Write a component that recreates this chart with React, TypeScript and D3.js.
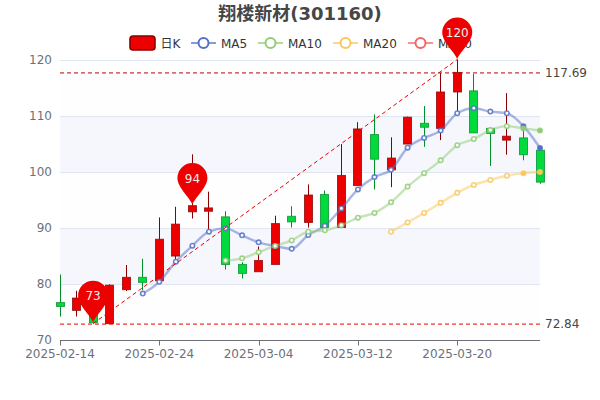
import React from "react";
import * as d3 from "d3";

const dates = ["2025-02-14","2025-02-17","2025-02-18","2025-02-19","2025-02-20","2025-02-21","2025-02-24","2025-02-25","2025-02-26","2025-02-27","2025-02-28","2025-03-03","2025-03-04","2025-03-05","2025-03-06","2025-03-07","2025-03-10","2025-03-11","2025-03-12","2025-03-13","2025-03-14","2025-03-17","2025-03-18","2025-03-19","2025-03-20","2025-03-21","2025-03-24","2025-03-25","2025-03-26","2025-03-27"];
const opens = [76.6,75.2,76.2,72.84,78.9,81.1,80.5,84.9,92.8,92.9,91.9,83.4,82.1,83.4,92,90.9,95.9,90,97.5,106.6,100.3,104.9,108.6,107.7,114.2,114.4,107.7,105.6,106,103.8];
const closes = [75.9,77.4,73,79.7,81.1,80.2,87.9,90.6,93.9,93.5,83.4,81.8,84.1,90.7,91,95.8,90,99.3,107.6,102.2,102.4,109.7,107.9,114.2,117.69,106.9,106.8,106.3,103,98.1];
const lows = [74.1,74.1,72.84,72.84,78.66,78.8,80.5,84,91.6,89.2,82.5,80.9,82.1,83.4,90,90,90,90,97.5,96.8,97.2,104.9,104.4,105.6,110.4,110.4,101,103,102,97.8];
const highs = [81.6,78.7,76.6,79.85,83.3,84.4,91.8,93.7,103.07,96.4,92.9,83.8,86.6,92.1,93.8,97.7,96.6,104.9,108.8,110.2,106.1,109.8,111.7,117.6,120,117.4,107.9,114,108.1,104];
const ma5 = [null,null,null,null,null,78.2,80.3,83.9,86.75,89.25,89.85,88.6,87.35,86.7,86.2,88.66,90.3,93.4,96.8,99,100.3,104.25,106,107.3,110.4,111.3,110.7,110.4,108.1,104.2];
const ma10 = [null,null,null,null,null,null,null,null,null,null,84.1,84.5,85.6,86.7,87.7,89.25,89.5,90.4,91.75,92.6,94.5,97.3,99.7,102,104.7,105.8,107.4,108.1,107.7,107.3];
const ma20 = [null,null,null,null,null,null,null,null,null,null,null,null,null,null,null,null,null,null,null,null,89.25,90.9,92.6,94.4,96.2,97.6,98.5,99.25,99.7,99.9];
const yTicks = [70,80,90,100,110,120];
const xTickIdx = [0,6,12,18,24];
const maxLine = 117.69;
const minLine = 72.84;
const pins = [{ i: 2, v: 73, label: "73" }, { i: 8, v: 94, label: "94" }, { i: 24, v: 120, label: "120" }];
const legendItems = [
  { name: "MA5", color: "#5470c6", x: 191 },
  { name: "MA10", color: "#91cc75", x: 258 },
  { name: "MA20", color: "#fac858", x: 333 },
  { name: "MA30", color: "#ee6666", x: 408 },
];

const font = "'DejaVu Sans','Noto Sans CJK SC',sans-serif";
const RED = "#ec0000", REDB = "#8a0000", GREEN = "#00da3c", GREENB = "#008f28";

const x = d3.scaleLinear().domain([0, dates.length - 1]).range([60, 540]);
const y = d3.scaleLinear().domain([70, 120]).range([339.5, 59.5]);
const gy = (v: number) => y(v) + 1;

function MA({ data, color }: { data: (number | null)[]; color: string }) {
  const pts = data.map((v, i) => ({ v, i })).filter((d) => d.v != null) as { v: number; i: number }[];
  const line = d3.line<{ v: number; i: number }>().x((d) => x(d.i)).y((d) => y(d.v)).curve(d3.curveMonotoneX);
  return (
    <g>
      <path d={line(pts) || ""} fill="none" stroke={color} strokeWidth={2.4} strokeOpacity={0.5} strokeLinejoin="round" />
      {pts.map((d) => (
        <circle key={d.i} cx={x(d.i)} cy={y(d.v)} r={2.2} fill={d.i >= 28 ? color : "#fff"} stroke={color} strokeWidth={1.6} strokeOpacity={0.85} />
      ))}
    </g>
  );
}

function pinPath(cx: number, tip: number) {
  const cy = tip - 27;
  const r = 15;
  return `M${cx} ${tip}C${cx - 1} ${tip - 6} ${cx - r} ${cy + 10} ${cx - r} ${cy}A${r} ${r} 0 1 1 ${cx + r} ${cy}C${cx + r} ${cy + 10} ${cx + 1} ${tip - 6} ${cx} ${tip}Z`;
}

export default function App() {
  const bands = [[120, 110, "#fefefe"], [110, 100, "#f5f7fc"], [100, 90, "#fefefe"], [90, 80, "#f5f7fc"], [80, 70, "#fefefe"]] as const;
  return (
    <svg width={600} height={400} style={{ position: "absolute", left: 0, top: 0 }} fontFamily={font}>
      <text x={300} y={20} textAnchor="middle" fontSize={18} fontWeight="bold" fill="#464646">翔楼新材(301160)</text>

      {bands.map(([a, b, c]) => (
        <rect key={a} x={60} width={480} y={gy(a)} height={gy(b) - gy(a)} fill={c} />
      ))}
      {yTicks.filter((t) => t !== 70).map((t) => (
        <line key={t} x1={60} x2={540} y1={gy(t)} y2={gy(t)} stroke="#e0e6f1" />
      ))}
      {yTicks.map((t) => (
        <text key={t} x={52} y={gy(t) + 3} textAnchor="end" fontSize={12} fill="#6e7079">{t}</text>
      ))}
      <line x1={60} x2={540} y1={gy(70)} y2={gy(70)} stroke="#6e7079" />
      {xTickIdx.map((i) => (
        <g key={i}>
          <line x1={Math.round(x(i)) + 0.5} x2={Math.round(x(i)) + 0.5} y1={gy(70)} y2={gy(70) + 5} stroke="#6e7079" />
          <text x={x(i)} y={358} textAnchor="middle" fontSize={12} fill="#6e7079">{dates[i]}</text>
        </g>
      ))}

      {dates.map((_, i) => {
        const up = closes[i] >= opens[i];
        const fill = up ? RED : GREEN;
        const border = up ? REDB : GREENB;
        const top = y(Math.max(opens[i], closes[i]));
        const bot = y(Math.min(opens[i], closes[i]));
        const cx = Math.floor(x(i)) + 0.5;
        return (
          <g key={i}>
            <line x1={cx} x2={cx} y1={y(highs[i])} y2={top} stroke={border} />
            <line x1={cx} x2={cx} y1={bot} y2={y(lows[i])} stroke={border} />
            <rect x={cx - 4} width={8} y={top} height={Math.max(bot - top, 1)} fill={fill} stroke={border} strokeWidth={1} strokeOpacity={0.75} />
          </g>
        );
      })}

      <MA data={ma5} color="#5470c6" />
      <MA data={ma10} color="#91cc75" />
      <MA data={ma20} color="#fac858" />

      <line x1={x(2)} y1={y(minLine)} x2={x(24)} y2={y(120)} stroke={RED} strokeDasharray="4 3" />
      <line x1={60} x2={540} y1={gy(maxLine) - 0.5} y2={gy(maxLine) - 0.5} stroke="#c00000" strokeDasharray="4 3" />
      <line x1={60} x2={540} y1={gy(minLine) - 0.5} y2={gy(minLine) - 0.5} stroke={RED} strokeDasharray="4 3" />
      <text x={545} y={gy(maxLine) + 3.5} fontSize={12} fill="#464646">117.69</text>
      <text x={545} y={gy(minLine) + 3.5} fontSize={12} fill="#464646">72.84</text>

      <rect x={130} y={36} width={25} height={14} rx={3} fill={RED} stroke={REDB} strokeWidth={1.6} />
      <text x={160.5} y={47.5} fontSize={12} fill="#333">日K</text>
      {legendItems.map((l) => (
        <g key={l.name}>
          <line x1={l.x} x2={l.x + 25} y1={43} y2={43} stroke={l.color} strokeWidth={2} strokeOpacity={0.7} />
          <circle cx={l.x + 12.5} cy={43} r={5} fill="#fff" stroke={l.color} strokeWidth={2} />
          <text x={l.x + 30} y={47.5} fontSize={12} fill="#333">{l.name}</text>
        </g>
      ))}

      {pins.map((p) => {
        const tip = y(p.v);
        return (
          <g key={p.i}>
            <path d={pinPath(x(p.i), tip)} fill={RED} />
            <text x={x(p.i)} y={tip - 22.5} textAnchor="middle" fontSize={12} fill="#eee">{p.label}</text>
          </g>
        );
      })}
    </svg>
  );
}
